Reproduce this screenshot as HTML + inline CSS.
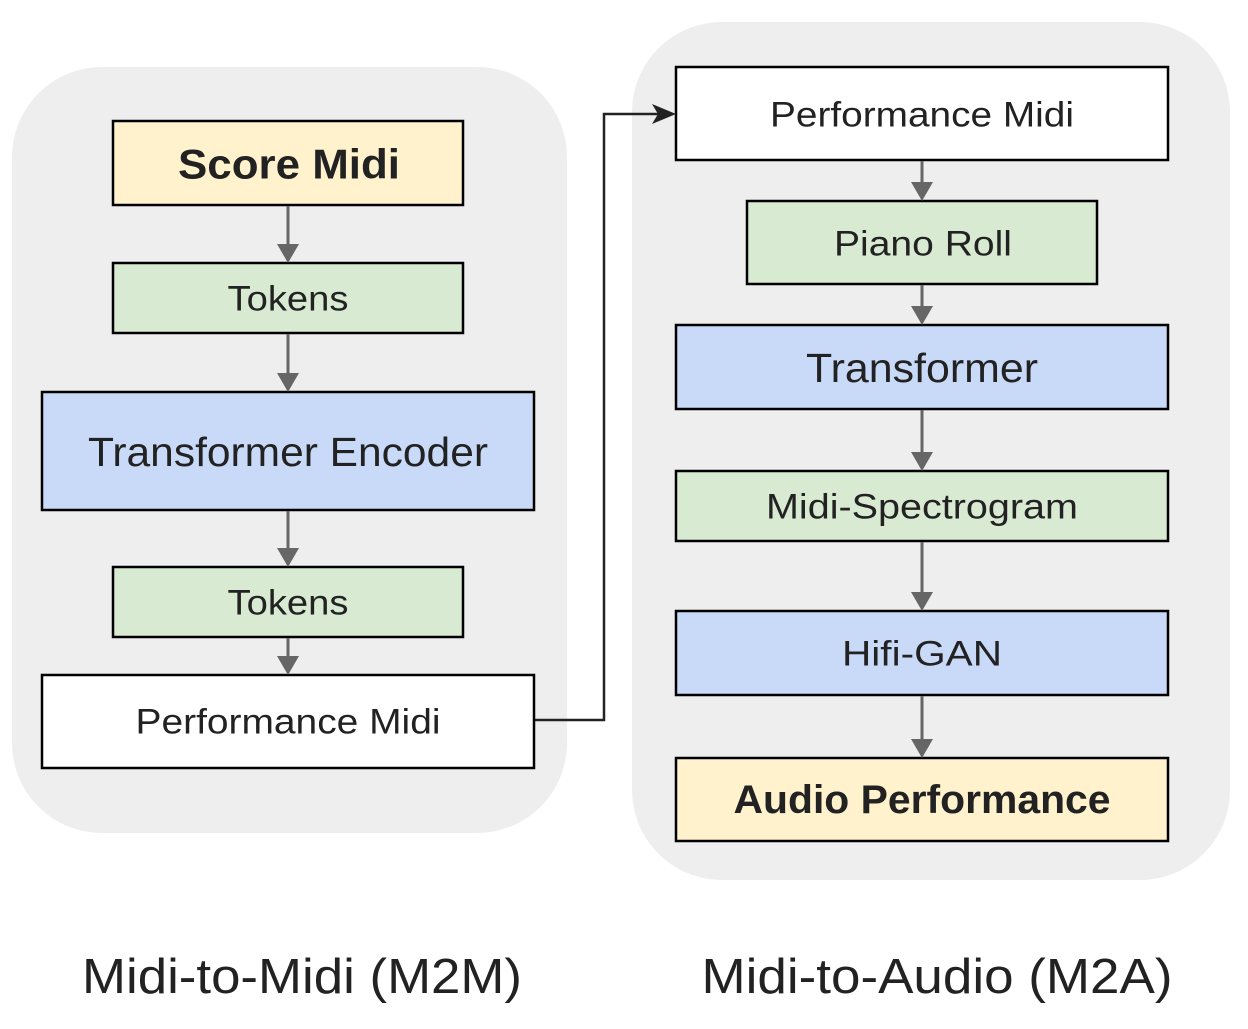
<!DOCTYPE html>
<html><head><meta charset="utf-8"><style>
html,body{margin:0;padding:0;background:#fff;}
svg{display:block;font-family:"Liberation Sans",sans-serif;}
</style></head><body>
<svg width="1248" height="1029" viewBox="0 0 1248 1029" xmlns="http://www.w3.org/2000/svg">
<rect x="12" y="67" width="555" height="766" rx="90" fill="#eeeeee"/>
<rect x="632" y="22" width="598" height="858" rx="90" fill="#eeeeee"/>
<g stroke="#000" stroke-width="2.5">
<rect x="113" y="121" width="350" height="84" fill="#fff2cc"/>
<rect x="113" y="263" width="350" height="70" fill="#d9ead3"/>
<rect x="42" y="392" width="492" height="118" fill="#c9daf8"/>
<rect x="113" y="567" width="350" height="70" fill="#d9ead3"/>
<rect x="42" y="675" width="492" height="93" fill="#ffffff"/>
<rect x="676" y="67" width="492" height="93" fill="#ffffff"/>
<rect x="747" y="201" width="350" height="83" fill="#d9ead3"/>
<rect x="676" y="325" width="492" height="84" fill="#c9daf8"/>
<rect x="676" y="471" width="492" height="70" fill="#d9ead3"/>
<rect x="676" y="611" width="492" height="84" fill="#c9daf8"/>
<rect x="676" y="758" width="492" height="83" fill="#fff2cc"/>
</g>
<g stroke="#666" stroke-width="3" fill="none">
<line x1="288" y1="206" x2="288" y2="246"/>
<line x1="288" y1="334" x2="288" y2="375"/>
<line x1="288" y1="511" x2="288" y2="550"/>
<line x1="288" y1="638" x2="288" y2="660"/>
<line x1="922" y1="161" x2="922" y2="186"/>
<line x1="922" y1="285" x2="922" y2="310"/>
<line x1="922" y1="410" x2="922" y2="454"/>
<line x1="922" y1="542" x2="922" y2="594"/>
<line x1="922" y1="696" x2="922" y2="741"/>
</g>
<path d="M535 720 H604 V114 H662" stroke="#222" stroke-width="2.5" fill="none"/>
<path d="M652 104 L676 114 L652 124 L658 114 Z" fill="#222"/>
<g fill="#666">
<path d="M277 244 L299 244 L288 263 Z"/>
<path d="M277 373 L299 373 L288 392 Z"/>
<path d="M277 548 L299 548 L288 567 Z"/>
<path d="M277 656 L299 656 L288 675 Z"/>
<path d="M911 182 L933 182 L922 201 Z"/>
<path d="M911 306 L933 306 L922 325 Z"/>
<path d="M911 452 L933 452 L922 471 Z"/>
<path d="M911 592 L933 592 L922 611 Z"/>
<path d="M911 739 L933 739 L922 758 Z"/>
</g>
<g fill="#222" text-anchor="middle" dominant-baseline="central" lengthAdjust="spacingAndGlyphs">
<text x="289" y="164" font-size="42" font-weight="bold" textLength="222" lengthAdjust="spacingAndGlyphs">Score Midi</text>
<text x="288" y="299" font-size="35" textLength="121" lengthAdjust="spacingAndGlyphs">Tokens</text>
<text x="288" y="452" font-size="41" textLength="400" lengthAdjust="spacingAndGlyphs">Transformer Encoder</text>
<text x="288" y="603" font-size="35" textLength="121" lengthAdjust="spacingAndGlyphs">Tokens</text>
<text x="288" y="722" font-size="35" textLength="305" lengthAdjust="spacingAndGlyphs">Performance Midi</text>
<text x="922" y="115" font-size="35" textLength="304" lengthAdjust="spacingAndGlyphs">Performance Midi</text>
<text x="923" y="244" font-size="35" textLength="178" lengthAdjust="spacingAndGlyphs">Piano Roll</text>
<text x="922" y="368" font-size="41" textLength="232" lengthAdjust="spacingAndGlyphs">Transformer</text>
<text x="922" y="507" font-size="35" textLength="312" lengthAdjust="spacingAndGlyphs">Midi-Spectrogram</text>
<text x="922" y="654" font-size="35" textLength="160" lengthAdjust="spacingAndGlyphs">Hifi-GAN</text>
<text x="922" y="800" font-size="40" font-weight="bold" textLength="377" lengthAdjust="spacingAndGlyphs">Audio Performance</text>
<text x="302" y="977" font-size="49" textLength="440" lengthAdjust="spacingAndGlyphs">Midi-to-Midi (M2M)</text>
<text x="937" y="977" font-size="49" textLength="471" lengthAdjust="spacingAndGlyphs">Midi-to-Audio (M2A)</text>
</g>
</svg>
</body></html>
